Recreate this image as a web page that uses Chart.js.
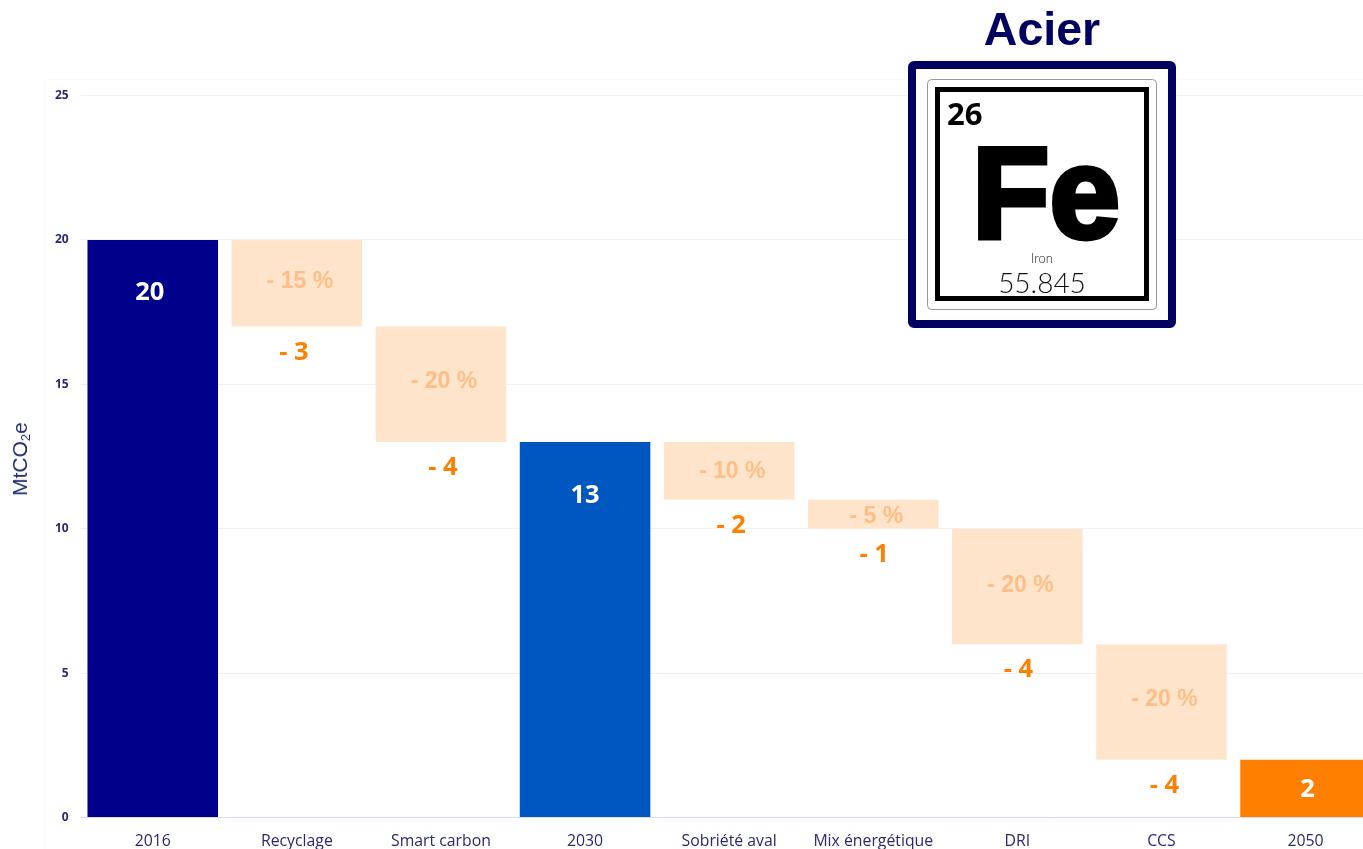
<!DOCTYPE html>
<html lang="fr"><head><meta charset="utf-8">
<script src="https://cdn.jsdelivr.net/npm/chart.js@4/dist/chart.umd.min.js"></script>
<style>
html,body{margin:0;padding:0;background:#fff;width:1363px;height:849px;overflow:hidden}
#wrap{position:relative;width:1363px;height:849px;overflow:hidden}
canvas{position:absolute;left:0;top:0}
#panel{position:absolute;left:45px;top:79px;width:1320px;height:780px;border:1px solid #fafafa;box-sizing:border-box}
#ytitle{position:absolute;left:20px;top:459px;transform:translate(-50%,-50%) rotate(-90deg);font:21px "Liberation Sans",sans-serif;color:#1f2c68;white-space:nowrap}
#ytitle sub{font-size:13px;vertical-align:-3px;line-height:0}
#acier{position:absolute;left:1042px;top:29px;transform:translate(-50%,-50%);font:bold 46.5px "Liberation Sans",sans-serif;color:#000060;white-space:nowrap}
svg{position:absolute;left:908px;top:61px}
</style></head><body>
<div id="wrap">
<div id="panel"></div>
<canvas id="c" width="1400" height="849" style="width:1400px;height:849px"></canvas>
<div id="ytitle">MtCO<sub>2</sub>e</div>
<div id="acier">Acier</div>
<svg width="268" height="267" viewBox="0 0 268 267">
<rect x="4" y="4" width="260" height="259" rx="2" fill="#fff" stroke="#000060" stroke-width="8"/>
<rect x="19.5" y="18.5" width="229" height="230" rx="4" fill="#fff" stroke="#999" stroke-width="1"/>
<rect x="29.5" y="28.5" width="209" height="209" fill="#fff" stroke="#000" stroke-width="5"/>
<text x="39" y="64" font-family="Open Sans" font-weight="700" font-size="31" fill="#000">26</text>
<text x="64" y="176.5" font-family="Liberation Sans" font-weight="700" font-size="130" fill="#000" stroke="#000" stroke-width="5" textLength="148" lengthAdjust="spacingAndGlyphs">Fe</text>
<text x="134" y="202" text-anchor="middle" font-family="Lato" font-weight="300" font-size="13" fill="#222">Iron</text>
<text x="134" y="232" text-anchor="middle" font-family="Lato" font-weight="300" font-size="28" fill="#111">55.845</text>
</svg>
</div>
<script>
const categories = ["2016","Recyclage","Smart carbon","2030","Sobriété aval","Mix énergétique","DRI","CCS","2050"];
const barBottoms = [0,17,13,0,11,10,6,2,0];
const barTops = [20,20,17,13,13,11,10,6,2];
const percentLabels = ["","- 15 %","- 20 %","","- 10 %","- 5 %","- 20 %","- 20 %",""];
const deltaLabels = ["","- 3","- 4","","- 2","- 1","- 4","- 4",""];
const totalLabels = ["20","","","13","","","","","2"];
const yTicks = [0,5,10,15,20,25];

const barColors = ["#00008b","#ffe4cc","#ffe4cc","#0057c0","#ffe4cc","#ffe4cc","#ffe4cc","#ffe4cc","#ff8000"];
const totalOffsets = [53,0,0,54,0,0,0,0,30];
const totalDx = [-3,0,0,0,0,0,0,0,2];
const deltaDx = [0,-3,2,0,2,1,1,3,0];
const percentDy = [0,0,-1,0,3,4,1,0,0];

const labelPlugin = {
  id:"waterfallLabels",
  afterDatasetsDraw(chart){
    const {ctx,scales:{x,y}} = chart;
    ctx.save();
    ctx.textAlign="center"; ctx.textBaseline="middle";
    categories.forEach((_,i)=>{
      const cx = x.getPixelForValue(i), top = y.getPixelForValue(barTops[i]), bot = y.getPixelForValue(barBottoms[i]);
      if(percentLabels[i]){
        ctx.font='bold 23px "Liberation Sans"'; ctx.fillStyle="#ffbe85";
        ctx.fillText(percentLabels[i],cx+3,(top+bot)/2-2+percentDy[i]);
      }
      if(deltaLabels[i]){
        ctx.font='bold 25.5px "Open Sans"'; ctx.fillStyle="#ff8000";
        ctx.fillText(deltaLabels[i],cx+deltaDx[i],bot+26);
      }
      if(totalLabels[i]){
        ctx.font='bold 25.5px "Open Sans"'; ctx.fillStyle="#ffffff";
        ctx.fillText(totalLabels[i],cx+totalDx[i],top+totalOffsets[i]);
      }
    });
    ctx.restore();
  }
};

new Chart(document.getElementById("c"),{
  type:"bar",
  data:{labels:categories,datasets:[{
    data:barBottoms.map((b,i)=>[b,barTops[i]]),
    backgroundColor:barColors,borderWidth:0,
    categoryPercentage:1,barPercentage:0.906
  }]},
  plugins:[labelPlugin],
  options:{
    responsive:false,animation:false,
    layout:{padding:{top:95.5,right:22.4,bottom:0,left:0}},
    plugins:{legend:{display:false},tooltip:{enabled:false},title:{display:false}},
    scales:{
      x:{
        afterFit(s){s.height=31.5;},
        grid:{display:false},
        border:{color:"#dcdcf2",width:1},
        ticks:{color:"#2a2a6e",font:{family:"Open Sans",size:15.8},maxRotation:0,minRotation:0,autoSkip:false,padding:7}
      },
      y:{
        min:0,max:25,
        afterFit(s){s.width=80.7;},
        afterBuildTicks(s){s.ticks=yTicks.map(v=>({value:v}));},
        grid:{color:"#f0f0f5",lineWidth:1,drawTicks:false},
        border:{display:false},
        ticks:{color:"#2a2a72",font:{family:"Open Sans",size:12,weight:"bold"},padding:12}
      }
    }
  }
});
</script>
</body></html>
